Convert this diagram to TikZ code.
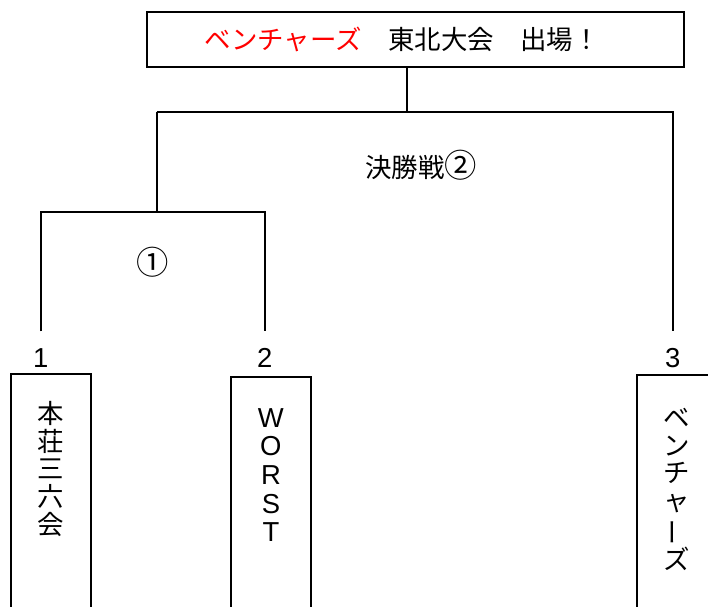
\documentclass[tikz,border=0pt]{standalone}
\usepackage{fontspec}
\usepackage{xcolor}
\setmainfont{Liberation Sans}
\newfontfamily\jp{Noto Sans CJK JP}
\usepackage{tikz}
\usetikzlibrary{positioning}
\tikzstyle{line} = [draw, line width=1.3pt]
\tikzstyle{block}=[draw, rectangle, line width=1.3pt, inner sep=0pt]
\tikzstyle{teambox}=[draw, rectangle, line width=1.3pt, anchor=north, minimum width=2cm, minimum height=7cm]
\tikzstyle{num}=[inner xsep=0pt, inner ysep=12pt, font=\fontsize{19.5}{20}\selectfont]
\tikzstyle{vtext}=[anchor=north, align=center, inner sep=0pt]
\def\jpsize{\fontsize{18.8}{19.6}\selectfont}
\def\circsize{\fontsize{23}{24}\selectfont}
\def\vbar{\rotatebox[origin=c]{90}{ー}}

\begin{document}
\begin{tikzpicture}[x=0.025cm, y=-0.025cm]
		\useasboundingbox (0,0) rectangle (708,606);
		\clip (0,0) rectangle (708,606);
		\node[block, minimum width=13.42cm, minimum height=1.37cm, font=\jp\jpsize] (T) at (415.5,39.5) {\textcolor{red}{ベンチャーズ}　東北大会　出場！　};
		\node[num] (n1) at (40.7,358) {1};
		\node[num] (n2) at (264.7,358) {2};
		\node[num] (n3) at (672.7,358) {3};
		\node[teambox] (b1) at (50.7,373.3) {};
		\node[teambox] (b2) at (270.9,376) {};
		\node[teambox] (b3) at (676.7,374) {};
		\node[vtext, font=\jp\jpsize, below=0.7cm of b1.north] (t1) {本\\荘\\三\\六\\会};
		\node[vtext, font=\fontsize{19.5}{20.4}\selectfont, below=0.8cm of b2.north] (t2) {W\\O\\R\\S\\T};
		\node[vtext, font=\jp\jpsize, below=0.85cm of b3.north] (t3) {ベ\\ン\\チ\\ャ\\\vbar\\ズ};
		\coordinate (f0) at (406.7,112);
		\coordinate (s0) at (156.7,212);
		\path[line] (f0 |- T.south) -- (f0);
		\path[line] (s0 |- f0) -| (n3.north);
		\path[line] (s0 |- f0) -- (s0);
		\path[line] (n1.north) |- (n2.north |- s0) -- (n2.north);
		\node[font=\jp\jpsize] (final) at (421,165) {決勝戦{\circsize ②}};
		\node[font=\jp\circsize] (semi) at (153,262) {①};
	\end{tikzpicture}
\end{document}
